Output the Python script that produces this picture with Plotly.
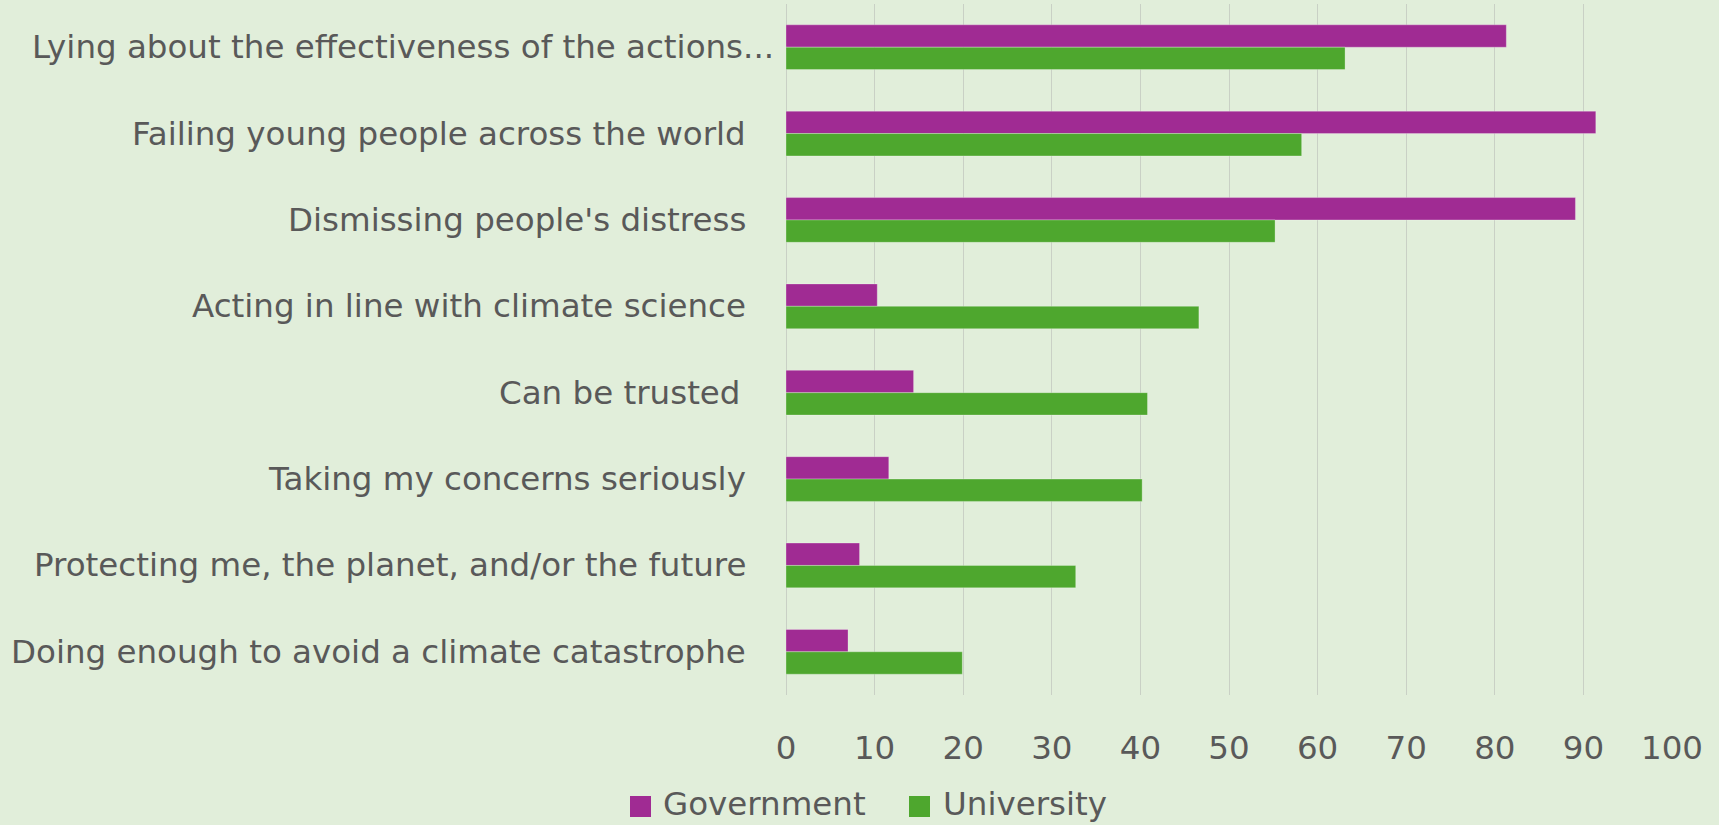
import plotly.graph_objects as go

# Survey statements (top to bottom) and share of respondents agreeing (%)
statements = [
    "Lying about the effectiveness of the actions...",
    "Failing young people across the world",
    "Dismissing people's distress",
    "Acting in line with climate science",
    "Can be trusted",
    "Taking my concerns seriously",
    "Protecting me, the planet, and/or the future",
    "Doing enough to avoid a climate catastrophe",
]
government = [81.3, 91.4, 89.1, 10.3, 14.4, 11.6, 8.3, 7.0]
university = [63.1, 58.2, 55.2, 46.6, 40.8, 40.2, 32.7, 19.9]
x_ticks = [0, 10, 20, 30, 40, 50, 60, 70, 80, 90, 100]
series_names = ["Government", "University"]

PURPLE = "#A02B93"
GREEN = "#4EA72E"
BG = "#E1EEDA"
TEXT = "#595959"
GRID = "#C9D0C5"
FONT = "DejaVu Sans"
FS = 32.5

W, H = 1719, 825
M_L, M_R, M_T, M_B = 786, 47, 4, 130
PLOT_W = W - M_L - M_R
PLOT_H = H - M_T - M_B


def px_x(px):
    return (px - M_L) / PLOT_W


def px_y(py):
    return (H - M_B - py) / PLOT_H


fig = go.Figure()
for name, vals, col in [(series_names[0], government, PURPLE), (series_names[1], university, GREEN)]:
    fig.add_trace(go.Bar(
        y=statements, x=vals, name=name, orientation="h",
        marker=dict(color=col, line=dict(color="rgba(255,255,255,0.35)", width=0.8)),
        showlegend=False,
    ))

# Category labels, right-aligned against the value axis
annotations = []
for i, s in enumerate(statements):
    shift = -38
    if i == 0:
        shift = -10
    elif s == "Can be trusted":
        shift = -43
    annotations.append(dict(
        x=0, y=s, xref="x", yref="y", text=s, showarrow=False,
        xanchor="right", yanchor="middle", xshift=shift,
        font=dict(family=FONT, size=FS, color=TEXT),
    ))

# Legend drawn below the axis
shapes = []
legend_items = [(series_names[0], PURPLE, 630, 661), (series_names[1], GREEN, 909, 941)]
for name, col, sq_left, txt_left in legend_items:
    shapes.append(dict(
        type="rect", xref="paper", yref="paper",
        x0=px_x(sq_left), x1=px_x(sq_left + 21),
        y0=px_y(817), y1=px_y(796),
        fillcolor=col, line=dict(width=0),
    ))
    annotations.append(dict(
        x=px_x(txt_left), y=px_y(804), xref="paper", yref="paper",
        text=name, showarrow=False, xanchor="left", yanchor="middle",
        font=dict(family=FONT, size=FS, color=TEXT),
    ))

fig.update_layout(
    width=W, height=H,
    margin=dict(l=M_L, r=M_R, t=M_T, b=M_B, pad=0),
    paper_bgcolor=BG, plot_bgcolor=BG,
    barmode="group", bargap=0.482, bargroupgap=0,
    font=dict(family=FONT, size=FS, color=TEXT),
    annotations=annotations, shapes=shapes,
    xaxis=dict(
        range=[0, 100], tickvals=x_ticks, showgrid=True,
        gridcolor=GRID, gridwidth=1.3, zeroline=True, zerolinecolor=GRID,
        zerolinewidth=1.3, showline=False, ticks="", ticklabelstandoff=30,
        tickfont=dict(family=FONT, size=FS, color=TEXT), fixedrange=True,
    ),
    yaxis=dict(
        autorange="reversed", showticklabels=False, showgrid=False,
        showline=False, ticks="", fixedrange=True,
    ),
)

fig.write_html("out.html")
